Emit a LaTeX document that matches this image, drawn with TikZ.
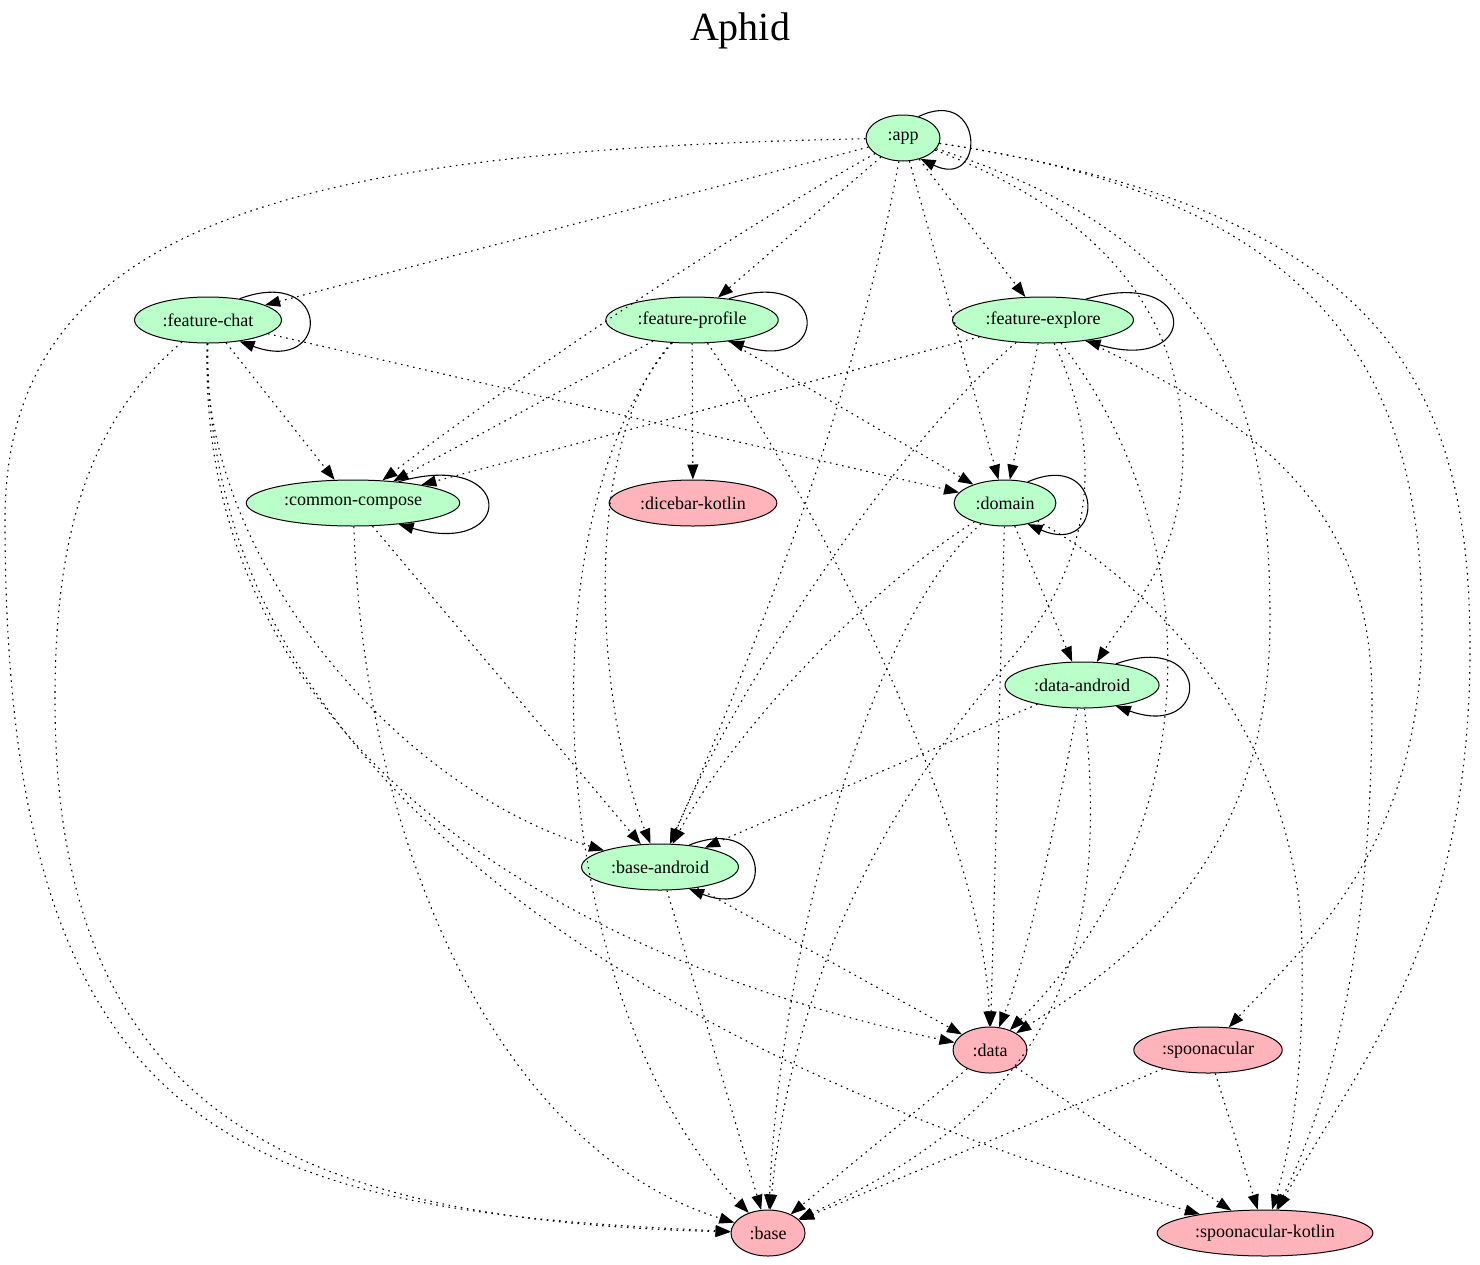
\documentclass[tikz,border=0pt]{standalone}
\usepackage{fontspec}
\setmainfont{Liberation Serif}
\usepackage{tikz}
\usetikzlibrary{shapes.geometric,arrows.meta}
\definecolor{modgreen}{HTML}{BAFFC9}
\definecolor{modpink}{HTML}{FFB3BA}

\begin{document}
\begin{tikzpicture}[x=1pt,y=-1pt,
		module/.style={ellipse,draw,line width=1pt,minimum width=74pt,minimum height=46pt,inner xsep=6.5pt,inner ysep=2pt,font=\fontsize{18}{20}\selectfont},
		android/.style={module,fill=modgreen},
		jvm/.style={module,fill=modpink},
		dep/.style={line width=1.1pt,dash pattern=on 1.6pt off 4.6pt,-{Triangle[length=15pt,width=11pt]}},
		selfdep/.style={line width=1.1pt,-{Triangle[length=15pt,width=11pt]}}]
		\useasboundingbox (0,0) rectangle (1480,1264);
		\node[font=\fontsize{40}{44}\selectfont] (title) at (740,31) {Aphid};
		\node[android] (app) at (903,138) {:app};
		\node[android] (fchat) at (208,320) {:feature-chat};
		\node[android] (fprofile) at (692,320) {:feature-profile};
		\node[android] (fexplore) at (1043,320) {:feature-explore};
		\node[android] (ccompose) at (353,503) {:common-compose};
		\node[jvm] (dicebar) at (693,503) {:dicebar-kotlin};
		\node[android] (domain) at (1005,503) {:domain};
		\node[android] (dandroid) at (1082,685) {:data-android};
		\node[android] (bandroid) at (660,867) {:base-android};
		\node[jvm] (data) at (990,1050) {:data};
		\node[jvm] (spoon) at (1208,1050) {:spoonacular};
		\node[jvm] (base) at (768,1233) {:base};
		\node[jvm] (spoonk) at (1265,1233) {:spoonacular-kotlin};
		\draw[selfdep] (app.54) .. controls +(66,-32) and +(66,32) .. (app.-50);
		\draw[selfdep] (fchat.34) .. controls +(92,-34) and +(92,34) .. (fchat.-34);
		\draw[selfdep] (fprofile.30) .. controls +(102,-34) and +(102,34) .. (fprofile.-30);
		\draw[selfdep] (fexplore.26) .. controls +(115,-34) and +(115,34) .. (fexplore.-26);
		\draw[selfdep] (ccompose.25) .. controls +(118,-34) and +(118,34) .. (ccompose.-25);
		\draw[selfdep] (domain.43) .. controls +(78,-34) and +(78,34) .. (domain.-43);
		\draw[selfdep] (dandroid.32) .. controls +(96,-34) and +(96,34) .. (dandroid.-32);
		\draw[selfdep] (bandroid.37) .. controls +(86,-34) and +(86,34) .. (bandroid.-37);
		\draw[dep] (app) -- (fchat);
		\draw[dep] (app) .. controls (720,240) and (500,390) .. (ccompose);
		\draw[dep] (app) -- (fprofile);
		\draw[dep] (app) .. controls (860,380) and (760,640) .. (bandroid);
		\draw[dep] (app) -- (domain);
		\draw[dep] (app) -- (fexplore);
		\draw[dep] (app) .. controls (1120,220) and (1183,330) .. (1183,450) .. controls (1183,560) and (1130,610) .. (dandroid);
		\draw[dep] (app) .. controls (1220,240) and (1270,400) .. (1270,620) .. controls (1270,860) and (1130,960) .. (data);
		\draw[dep] (app) .. controls (1330,200) and (1420,380) .. (1422,620) .. controls (1424,850) and (1300,950) .. (spoon);
		\draw[dep] (app) .. controls (1380,210) and (1468,380) .. (1470,640) .. controls (1472,940) and (1360,1060) .. (spoonk);
		\draw[dep] (app) .. controls (300,150) and (5,220) .. (5,520) .. controls (5,1150) and (250,1210) .. (base);
		\draw[dep] (fchat) -- (ccompose);
		\draw[dep] (fchat) -- (domain);
		\draw[dep] (fchat) .. controls (200,560) and (400,790) .. (bandroid);
		\draw[dep] (fchat) .. controls (196,720) and (520,950) .. (data);
		\draw[dep] (fchat) .. controls (203,800) and (700,1070) .. (spoonk);
		\draw[dep] (fchat) .. controls (90,420) and (55,530) .. (55,700) .. controls (55,1120) and (300,1220) .. (base);
		\draw[dep] (fprofile) -- (dicebar);
		\draw[dep] (fprofile) -- (ccompose);
		\draw[dep] (fprofile) -- (domain);
		\draw[dep] (fprofile) .. controls (840,540) and (985,850) .. (data);
		\draw[dep] (fprofile) .. controls (575,450) and (600,720) .. (bandroid);
		\draw[dep] (fprofile) .. controls (520,520) and (545,1000) .. (base);
		\draw[dep] (fexplore) -- (ccompose);
		\draw[dep] (fexplore) -- (domain);
		\draw[dep] (fexplore) .. controls (900,440) and (740,680) .. (bandroid);
		\draw[dep] (fexplore) .. controls (1105,450) and (1095,560) .. (1010,660) .. controls (870,820) and (790,1000) .. (base);
		\draw[dep] (fexplore) .. controls (1200,520) and (1220,820) .. (data);
		\draw[dep] (fexplore) .. controls (1250,420) and (1372,500) .. (1372,700) .. controls (1372,950) and (1330,1100) .. (spoonk);
		\draw[dep] (ccompose) -- (bandroid);
		\draw[dep] (ccompose) .. controls (365,850) and (500,1150) .. (base);
		\draw[dep] (domain) -- (dandroid);
		\draw[dep] (domain) -- (data);
		\draw[dep] (domain) .. controls (880,580) and (740,720) .. (bandroid);
		\draw[dep] (domain) .. controls (870,620) and (780,950) .. (base);
		\draw[dep] (domain) .. controls (1180,600) and (1300,760) .. (1302,950) .. controls (1304,1080) and (1290,1150) .. (spoonk);
		\draw[dep] (dandroid) -- (bandroid);
		\draw[dep] (dandroid) .. controls (1060,800) and (1030,950) .. (data);
		\draw[dep] (dandroid) .. controls (1110,950) and (1060,1100) .. (base);
		\draw[dep] (bandroid) -- (data);
		\draw[dep] (bandroid) -- (base);
		\draw[dep] (data) -- (base);
		\draw[dep] (data) -- (spoonk);
		\draw[dep] (spoon) -- (base);
		\draw[dep] (spoon) -- (spoonk);
	\end{tikzpicture}
\end{document}
